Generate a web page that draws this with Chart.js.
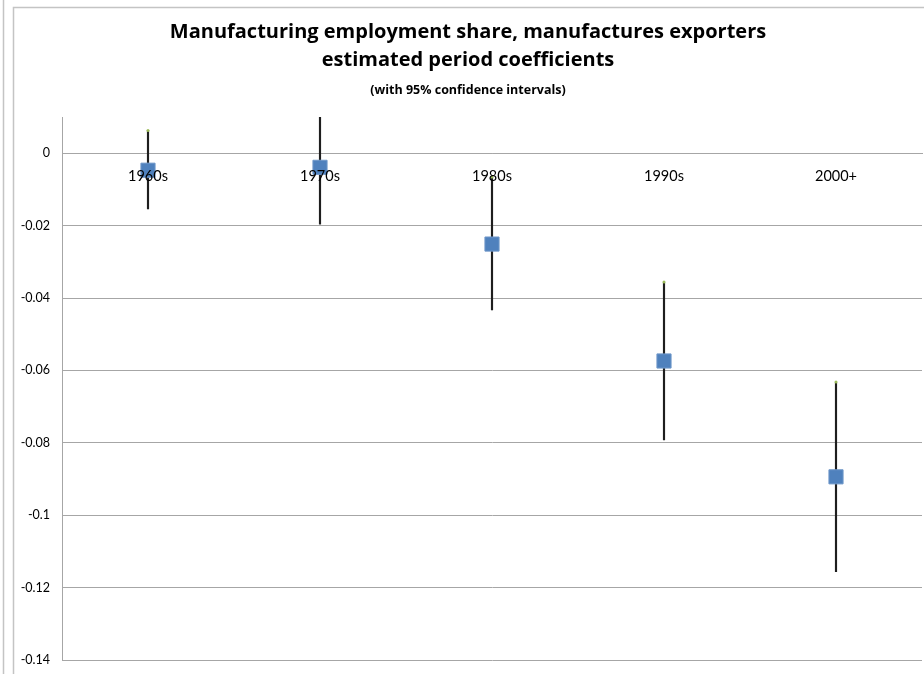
<!DOCTYPE html>
<html>
<head>
<meta charset="utf-8">
<script src="https://cdn.jsdelivr.net/npm/chart.js@4/dist/chart.umd.min.js"></script>
<style>
  html, body { margin: 0; padding: 0; background: #fff; }
  #wrap { width: 924px; height: 674px; }
</style>
</head>
<body>
<div id="wrap"><canvas id="coefChart" width="924" height="674"></canvas></div>
<script>
// period coefficients with 95% confidence bounds
const periods = ["1960s", "1970s", "1980s", "1990s", "2000+"];
const coefficient = [-0.0047, -0.0039, -0.0251, -0.0574, -0.0894];
const upperBound = [0.0063, 0.0118, -0.0066, -0.0356, -0.0632];
const lowerBound = [-0.0154, -0.0196, -0.0433, -0.0792, -0.1156];

const FONT = "Lato, 'Open Sans', sans-serif";
const TITLE_FONT = "'Open Sans', Lato, sans-serif";

// the double frame lines down the left and across the top
const framePlugin = {
  id: "frame",
  beforeDraw(chart) {
    const ctx = chart.ctx;
    ctx.save();
    ctx.fillStyle = "#ffffff";
    ctx.fillRect(0, 0, chart.width, chart.height);
    ctx.strokeStyle = "#c4c4c4";
    ctx.lineWidth = 1.5;
    ctx.beginPath();
    ctx.moveTo(3.5, 0);
    ctx.lineTo(3.5, chart.height);
    ctx.moveTo(13.5, chart.height);
    ctx.lineTo(13.5, 7.5);
    ctx.lineTo(chart.width, 7.5);
    ctx.stroke();
    ctx.restore();
  },
};

const ranges = periods.map((p, i) => [lowerBound[i], upperBound[i]]);

new Chart(document.getElementById("coefChart"), {
  data: {
    labels: periods,
    datasets: [
      {
        type: "line",
        label: "Estimate",
        data: coefficient,
        showLine: false,
        pointStyle: "rect",
        pointRadius: 10,
        pointHoverRadius: 10,
        backgroundColor: "#4F81BD",
        borderColor: "#6f97c9",
        borderWidth: 1,
        order: 0,
      },
      {
        type: "line",
        label: "High",
        data: upperBound,
        showLine: false,
        pointStyle: "circle",
        pointRadius: 1.5,
        backgroundColor: "#9BBB59",
        borderColor: "#9BBB59",
        borderWidth: 0,
        clip: 0,
        order: 1,
      },
      {
        type: "bar",
        label: "Range",
        data: ranges,
        backgroundColor: "#1e1e1e",
        barThickness: 1.5,
        clip: 0,
        order: 2,
      },
    ],
  },
  options: {
    responsive: false,
    animation: false,
    layout: { autoPadding: false, padding: { left: 14, right: 2, top: 8, bottom: 14 } },
    plugins: {
      legend: { display: false },
      tooltip: { enabled: false },
      title: {
        display: true,
        text: [
          "Manufacturing employment share, manufactures exporters",
          "estimated period coefficients",
        ],
        color: "#000",
        font: { family: TITLE_FONT, size: 20, weight: "bold", lineHeight: 1.4 },
        padding: { top: 10, bottom: 0 },
      },
      subtitle: {
        display: true,
        text: "(with 95% confidence intervals)",
        color: "#000",
        font: { family: TITLE_FONT, size: 12.5, weight: "bold", lineHeight: 1.2 },
        padding: { top: 8.5, bottom: 19.5 },
      },
    },
    scales: {
      x: {
        type: "category",
        position: { y: 0 },
        offset: true,
        grid: {
          display: true,
          drawOnChartArea: false,
          drawTicks: true,
          tickLength: 14,
          tickColor: "rgba(0,0,0,0)",
        },
        border: { display: true, color: "#a6a6a6", width: 1 },
        afterFit(scale) {
          scale.paddingLeft = 0;
          scale.paddingRight = 0;
        },
        ticks: {
          z: 1,
          color: "#000",
          padding: 0,
          maxRotation: 0,
          font: { family: FONT, size: 14.5 },
        },
      },
      y: {
        min: -0.14,
        max: 0.01,
        grid: { color: "#a6a6a6", drawTicks: false },
        border: { display: true, color: "#a6a6a6" },
        afterFit(scale) {
          scale.width = 48;
          scale.paddingTop = 0;
          scale.paddingBottom = 0;
        },
        ticks: {
          stepSize: 0.02,
          includeBounds: false,
          padding: 12,
          color: "#000",
          font: { family: FONT, size: 12.5 },
          callback: (v) => String(+Number(v).toFixed(2)),
        },
      },
    },
  },
  plugins: [framePlugin],
});
</script>
</body>
</html>
